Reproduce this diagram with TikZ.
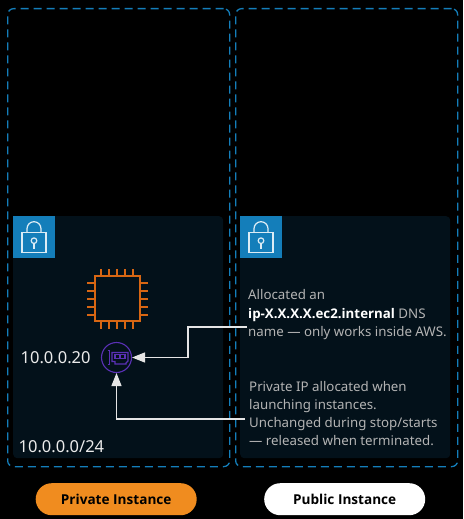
\documentclass[tikz,border=0pt]{standalone}
\usepackage{fontspec}
\setmainfont{Noto Sans}[BoldFont={Open Sans Bold}]
\usepackage{tikz}
\usetikzlibrary{positioning, arrows.meta, backgrounds}

\definecolor{dashblue}{HTML}{147EBA}
\definecolor{panelbg}{HTML}{03111A}
\definecolor{chiporange}{HTML}{D86613}
\definecolor{enipurple}{HTML}{5A30B5}
\definecolor{pillorange}{HTML}{F08C1F}
\definecolor{desctext}{HTML}{B4B4B4}

\begin{document}
\begin{tikzpicture}[
						x=1pt, y=-1pt,
						every node/.style={font=\fontsize{13.3}{18.2}\selectfont, inner sep=0pt},
						zone/.style={draw=dashblue, line width=1.3pt, dash pattern=on 8pt off 5pt, rounded corners=6pt, minimum width=222pt, minimum height=458pt},
						panel/.style={fill=panelbg, rounded corners=4pt, minimum width=210pt, minimum height=242pt},
						lockbox/.style={fill=dashblue, minimum size=42pt},
						lockline/.style={draw=white!85!dashblue, line width=1.2pt},
						chippin/.style={draw=chiporange, line width=2.3pt},
						eniline/.style={draw=enipurple, line width=1.1pt},
						iplabel/.style={text=white!92!black, font=\fontsize{16.5}{18}\selectfont},
						desc/.style={text=desctext, align=left},
						pill/.style={rounded corners=16pt, minimum width=161pt, minimum height=32pt, font=\fontsize{13.6}{18}\selectfont\bfseries},
						wire/.style={draw=white!90!black, line width=1.4pt},
						arrowwire/.style={wire, -{Triangle[length=13pt, width=10pt]}}
				]
    \fill[black] (0,0) rectangle (463,519);

    % Outer zones
    \node[zone, anchor=north west] (LeftZone) at (7,8) {};
    \node[zone, anchor=north west] (RightZone) at (235,8) {};

    % Subnet panels
    \node[panel, anchor=north west] (LeftPanel) at (13,216) {};
    \node[panel, anchor=north west] (RightPanel) at (240,216) {};
    \node[lockbox, anchor=north west] (LeftLock) at (13,216) {};
    \node[lockbox, anchor=north west] (RightLock) at (240,216) {};

    % Padlocks
    \foreach \ox in {13,240} {
        \draw[lockline] (\ox+9,252.5) rectangle (\ox+33,232.7);
        \draw[lockline] (\ox+14,232.7) -- (\ox+14,228.7) arc[start angle=180, end angle=0, radius=7pt] -- (\ox+28,232.7);
        \draw[lockline] (\ox+21,240.7) circle[radius=2.8pt];
        \draw[lockline] (\ox+21,243.5) -- (\ox+21,249);
    }

    % Instance chip
    \node[draw=chiporange, line width=2.3pt, minimum size=45pt, anchor=center] (Chip) at (117.5,298.5) {};
    \foreach \k in {-16,-8,0,8,16} {
        \draw[chippin] (117+\k,269) -- (117+\k,275);
        \draw[chippin] (117+\k,322) -- (117+\k,329);
        \draw[chippin] (87,299+\k) -- (94,299+\k);
        \draw[chippin] (141,299+\k) -- (148,299+\k);
    }

    % Network interface
    \node[draw=enipurple, circle, line width=1.1pt, minimum size=30pt] (Eni) at (116.5,357.5) {};
    \draw[eniline] (107.5,350.5) -- (109.5,350.5) -- (109.5,364.5) -- (107.5,364.5);
    \draw[eniline] (112,352.5) -- (128,352.5) -- (128,361) -- (126,363) -- (126,364) -- (115,364) -- (115,361.5) -- (112,361.5) -- cycle;
    \draw[eniline] (115,354.7) rectangle (120,358.7);
    \draw[eniline] (120,354.7) rectangle (125,358.7);

    % Labels
    \node[iplabel, anchor=west] (EniIp) at (20.5,358) {10.0.0.20};
    \node[iplabel, anchor=west] (SubnetIp) at (18.5,447) {10.0.0.0/24};

    \node[desc, anchor=north west] (DnsNote) at (248,289.5) {Allocated an\\{\color{white}\bfseries ip-X.X.X.X.ec2.internal} DNS\\name — only works inside AWS.};
    \node[desc, anchor=north west] (IpNote) at (249,381) {Private IP allocated when\\launching instances.\\Unchanged during stop/starts\\— released when terminated.};

    % Buttons
    \node[pill, fill=pillorange, text=black, anchor=north west] (PrivatePill) at (35.5,483) {Private Instance};
    \node[pill, fill=white, text=black, anchor=north west] (PublicPill) at (264,483) {Public Instance};

    % Connectors
    \coordinate (DnsEnd) at (247,327);
    \coordinate (IpEnd) at (245,419);
    \draw[arrowwire] (DnsEnd) -| (188,357.5) -- (Eni.east);
    \draw[arrowwire] (IpEnd) -| (Eni.south);

  \end{tikzpicture}
\end{document}
